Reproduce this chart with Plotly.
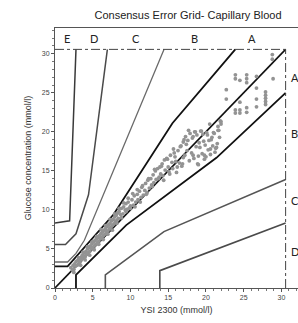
import plotly.graph_objects as go

# Zone boundary lines (mmol/l)
a_upper_x = [0, 1.67, 7.78, 15.56, 23.89]
a_upper_y = [2.78, 2.78, 9.44, 21.11, 30.56]
a_lower_x = [2.78, 2.78, 9.44, 21.39, 30.56]
a_lower_y = [0, 1.67, 8.06, 16.67, 25.0]
b_upper_x = [0, 1.67, 2.78, 3.89, 14.44]
b_upper_y = [3.33, 3.33, 4.44, 6.11, 30.56]
b_lower_x = [6.67, 6.67, 14.44, 30.56]
b_lower_y = [0, 1.67, 7.22, 13.89]
c_upper_x = [0, 1.39, 2.78, 4.44, 6.94]
c_upper_y = [5.56, 5.56, 6.94, 11.94, 30.56]
c_lower_x = [13.89, 13.89, 30.56]
c_lower_y = [0, 2.22, 8.33]
d_upper_x = [0, 1.94, 2.78]
d_upper_y = [8.33, 8.61, 30.56]
diag_x = [0, 30.56]
diag_y = [0, 30.56]
limit = 30.56

# Zone labels
top_labels = ["E", "D", "C", "B", "A"]
top_label_x = [1.6, 5.2, 10.7, 18.5, 26.1]
right_labels = ["A", "B", "C", "D"]
right_label_y = [27.0, 19.8, 11.2, 4.7]

pts_x = [2.1, 2.3, 2.4, 2.5, 2.6, 2.7, 2.9, 3.0, 3.1, 3.2, 3.3, 3.4, 3.5, 3.6, 3.7, 3.8, 3.9, 4.0,
         4.1, 4.2, 4.3, 4.4, 4.5, 4.6, 4.7, 4.8, 4.9, 5.0, 5.1, 5.2, 5.3, 5.4, 5.5, 5.6, 5.7, 5.8,
         5.9, 6.0, 6.1, 6.2, 6.3, 6.4, 6.5, 6.6, 6.7, 6.8, 6.9, 7.0, 7.1, 7.2, 7.3, 7.4, 7.5, 7.6,
         7.7, 7.8, 7.9, 8.0, 8.1, 8.2, 8.3, 8.4, 8.5, 8.7, 8.8, 9.0, 9.1, 9.3, 9.4, 9.6, 9.7, 9.9,
         10.0, 10.2, 10.4, 10.5, 10.7, 10.9, 11.0, 11.2, 11.4, 11.5, 11.7, 11.9, 12.0, 12.2, 12.3,
         12.5, 12.7, 12.8, 13.0, 13.1, 13.3, 13.4, 13.6, 13.8, 13.9, 14.0, 14.2, 14.3, 14.5, 14.6,
         14.8, 15.0, 15.1, 15.3, 15.5, 15.6, 15.8, 16.0, 16.1, 16.3, 16.5, 16.7, 16.9, 17.0, 17.2,
         17.3, 17.5, 17.6, 17.8, 17.9, 18.1, 18.2, 18.4, 18.5, 18.7, 18.8, 19.0, 19.1, 19.3, 19.5,
         19.6, 19.8, 19.9, 20.1, 20.3, 20.4, 20.6, 20.8, 20.9, 21.1, 21.3, 21.5, 21.6, 21.9, 22.0,
         16.8, 17.4, 18.3, 19.2, 20.0, 20.7, 21.7, 15.9, 17.0, 18.9, 19.7, 21.2,
         22.7, 22.7, 23.9, 23.9, 23.9, 23.9, 24.5, 24.5, 24.5, 24.5, 25.4, 25.4, 25.4, 25.4, 25.4,
         26.7, 26.7, 26.7, 26.7, 27.9, 27.9, 27.9, 27.9, 27.9, 28.8, 28.8, 28.9, 22.0, 21.6,
         2.5, 2.8, 3.1, 3.4, 3.7, 4.0, 4.3, 4.6, 4.9, 5.2, 5.5, 5.8, 6.1, 6.4, 6.7, 7.0, 7.3, 7.6,
         7.9, 8.2, 8.5, 8.8, 9.1, 9.4, 9.7, 10.0, 10.3, 10.6, 10.9, 11.3, 11.6, 12.1, 12.4, 12.9,
         13.2, 13.7, 14.1, 14.4, 14.9, 15.2, 15.7, 16.2, 16.6, 17.1, 17.7, 18.3, 18.6, 19.4, 20.2,
         20.5, 21.0, 21.4, 21.8, 19.0, 19.8, 20.6]
pts_y = [2.6, 2.3, 2.9, 2.4, 3.1, 2.8, 2.9, 3.5, 3.0, 3.7, 3.3, 3.9, 3.6, 4.2, 3.8, 4.1, 4.5, 4.0,
         4.7, 4.3, 5.0, 4.5, 5.2, 4.7, 5.4, 5.0, 5.7, 5.2, 5.9, 5.4, 6.1, 5.6, 6.3, 5.8, 6.5, 6.0,
         6.7, 6.3, 7.0, 6.5, 7.2, 6.7, 7.4, 6.9, 7.6, 7.2, 7.9, 7.3, 8.1, 7.6, 8.3, 7.8, 8.6, 8.0,
         8.8, 8.2, 9.1, 8.5, 9.3, 8.7, 9.6, 8.9, 9.8, 9.4, 10.2, 9.5, 10.4, 10.0, 10.8, 10.1, 11.0,
         10.3,
         10.5, 11.3, 10.6, 11.8, 11.0, 12.0, 11.3, 12.4, 11.6, 12.9, 11.9, 12.5, 13.4, 12.2, 13.8,
         12.8, 14.0, 13.2, 14.5, 13.5, 15.0, 13.9, 15.3, 14.2, 15.5, 14.6, 15.9, 14.4, 16.4, 15.1,
         16.6, 15.5, 14.9, 17.0, 16.1, 15.3, 17.3, 16.2, 14.8, 17.6, 16.0, 18.2, 15.9, 18.7, 17.0,
         19.4, 17.6, 18.9, 16.3, 19.8, 17.3, 19.2, 16.6, 20.0, 18.1, 19.6, 16.9, 18.6, 20.1, 17.2,
         19.7, 16.5, 18.3, 19.9, 17.7, 18.9, 17.1, 19.3, 18.2, 19.8, 17.9, 18.5, 20.7, 21.4, 21.0,
         15.6, 18.4, 17.0, 18.0, 16.8, 19.0, 20.2, 16.8, 16.7, 15.9, 18.8, 17.4,
         25.4, 24.2, 27.3, 26.8, 22.8, 22.4, 26.6, 23.8, 22.8, 22.4, 27.3, 26.8, 26.3, 23.1, 22.5,
         27.1, 25.6, 24.2, 23.2, 25.1, 24.7, 24.3, 23.9, 23.5, 29.9, 29.3, 26.8, 21.3, 20.2,
         2.0, 3.4, 3.9, 2.9, 4.6, 3.6, 5.3, 4.2, 5.9, 4.9, 6.6, 5.6, 7.5, 6.2, 8.0, 6.9, 8.8, 7.4,
         9.5, 8.3, 10.2, 9.0, 10.9, 9.8, 11.5, 10.2, 12.1, 10.4, 12.6, 11.0, 13.1, 12.0, 14.0, 13.0,
         15.2, 14.0, 15.6, 13.8, 16.5, 14.6, 17.8, 15.5, 18.1, 19.0, 20.2, 19.4, 20.0, 20.1, 19.6,
         21.0, 19.9, 18.0, 19.3, 15.8, 17.0, 17.8]

fig = go.Figure()

line_specs = [
    (d_upper_x, d_upper_y, "#3a3a3a", 1.5),
    (c_upper_x, c_upper_y, "#4a4a4a", 1.5),
    (b_upper_x, b_upper_y, "#6a6a6a", 1.3),
    (a_upper_x, a_upper_y, "#111111", 1.8),
    (diag_x, diag_y, "#111111", 1.6),
    (a_lower_x, a_lower_y, "#111111", 1.8),
    (b_lower_x, b_lower_y, "#555555", 1.6),
    (c_lower_x, c_lower_y, "#4a4a4a", 1.6),
]
for lx, ly, col, w in line_specs:
    fig.add_trace(go.Scatter(x=lx, y=ly, mode="lines", line=dict(color=col, width=w),
                             hoverinfo="skip", showlegend=False))

# dash-dot limits
fig.add_trace(go.Scatter(x=[0, limit], y=[limit, limit], mode="lines",
                         line=dict(color="#444444", width=1, dash="dashdot"), showlegend=False))
fig.add_trace(go.Scatter(x=[limit, limit], y=[0, limit], mode="lines",
                         line=dict(color="#444444", width=1, dash="dashdot"), showlegend=False))

fig.add_trace(go.Scatter(x=pts_x, y=pts_y, mode="markers",
                         marker=dict(color="#939393", size=3.8, line=dict(width=0)),
                         showlegend=False))

for t, xv in zip(top_labels, top_label_x):
    fig.add_annotation(x=xv, y=31.9, text=t, showarrow=False,
                       font=dict(family="Lato, Liberation Sans", size=11, color="#222"))
for t, yv in zip(right_labels, right_label_y):
    fig.add_annotation(x=30.95, y=yv, text=t, showarrow=False, xanchor="left",
                       font=dict(family="Lato, Liberation Sans", size=11, color="#222"))

fig.update_layout(
    width=298, height=323,
    margin=dict(l=55, r=0, t=28, b=35, autoexpand=False),
    paper_bgcolor="white", plot_bgcolor="white",
    title=dict(text="Consensus Error Grid- Capillary Blood", x=(188 - 55) / 243, xref="paper",
               xanchor="center", y=1 - 15 / 323, yref="container", yanchor="middle",
               automargin=False,
               font=dict(family="Liberation Sans, Arial", size=11, color="#222")),
    font=dict(family="Liberation Sans, Arial", color="#333"),
)
fig.update_xaxes(range=[0, 32.2], showgrid=False, zeroline=False, automargin=False,
                 showline=True, linecolor="#555", linewidth=1, mirror=True,
                 ticks="outside", ticklen=3, tickcolor="#555", tickwidth=1,
                 tickvals=[0, 5, 10, 15, 20, 25, 30],
                 minor=dict(dtick=1, ticks="outside", ticklen=2, tickcolor="#777"),
                 tickfont=dict(size=7, color="#444"),
                 title=dict(text="YSI 2300 (mmol/l)", font=dict(size=9, color="#333"), standoff=6))
fig.update_yaxes(range=[0, 33.3], showgrid=False, zeroline=False, automargin=False,
                 showline=True, linecolor="#555", linewidth=1,
                 ticks="outside", ticklen=3, tickcolor="#555", tickwidth=1,
                 tickvals=[0, 5, 10, 15, 20, 25, 30],
                 minor=dict(dtick=1, ticks="outside", ticklen=2, tickcolor="#777"),
                 tickfont=dict(size=7, color="#444"),
                 title=dict(text="Glucose concentration (mmol/l)", font=dict(size=9, color="#333"),
                            standoff=8))

fig.write_html("out.html", config={"displayModeBar": False},
               post_script="document.body.style.margin='0';")
